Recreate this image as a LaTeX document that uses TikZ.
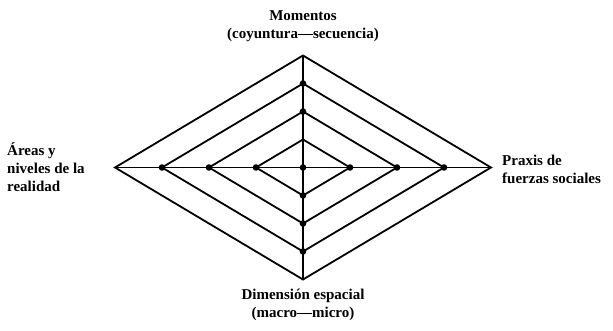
\documentclass[tikz,border=0pt]{standalone}
\usepackage{fontspec}
\setmainfont{Liberation Serif}

\begin{document}
\begin{tikzpicture}[
    x=1pt, y=1pt,
    every node/.style={font=\bfseries\fontsize{15}{18}\selectfont},
    ring/.style={line width=1.8pt, line join=miter},
    axis/.style={line width=1.8pt},
    label/.style={align=center, inner sep=0pt},
    sidelabel/.style={align=left, inner sep=0pt, anchor=west},
]

% === Frame (keeps the reference proportions) ===
\useasboundingbox (-303,-162.5) rectangle (310,167.5);

% === Diamond dimensions ===
\def\hw{47}     % half width step
\def\hh{28}     % half height step

% === Nested diamonds ===
\foreach \k in {1,...,4} {
    \draw[ring] ({-\k*\hw},0) -- (0,{\k*\hh}) -- ({\k*\hw},0) -- (0,{-\k*\hh}) -- cycle;
}

% === Outer vertices ===
\coordinate (left)   at ({-4*\hw},0);
\coordinate (right)  at ({4*\hw},0);
\coordinate (top)    at (0,{4*\hh});
\coordinate (bottom) at (0,{-4*\hh});

% === Axes ===
\draw[axis] (left) -- (right);
\draw[axis] (top) -- (bottom);

% === Dots on the axes ===
\foreach \k in {1,2,3} {
    \fill ({-\k*\hw},0) circle (3.3);
    \fill ({\k*\hw},0) circle (3.3);
    \fill (0,{-\k*\hh}) circle (3.3);
}
\foreach \k in {2,3} {
    \fill (0,{\k*\hh}) circle (3.3);
}
\fill (0,0) circle (3.3);

% === Labels ===
\node[label] (moments) at (0,141.5) {Momentos\\(coyuntura---secuencia)};
\node[label] (space) at (0,-137) {Dimensión espacial\\(macro---micro)};
\node[sidelabel] (areas) at (-296,0) {Áreas y\\niveles de la\\realidad};
\node[sidelabel] (praxis) at (199,-1.5) {Praxis de\\fuerzas sociales};

\end{tikzpicture}
\end{document}
